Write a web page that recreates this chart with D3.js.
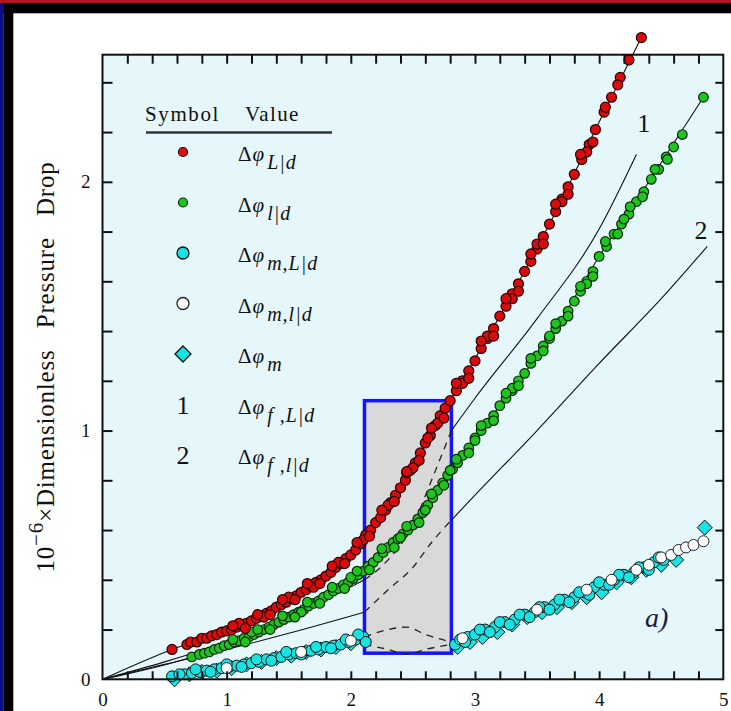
<!DOCTYPE html>
<html><head><meta charset="utf-8">
<script src="https://cdn.jsdelivr.net/npm/d3@7"></script>
<style>body{margin:0;background:#fff} svg{display:block}</style>
</head><body><svg id="c" width="731" height="711"></svg>
<script>
// ---------- data ----------
const xTicks = [0, 1, 2, 3, 4, 5];
const yTicks = [0, 1, 2];
const redPts = [[0.56,0.12],[0.68,0.14],[0.71,0.15],[0.76,0.15],[0.8,0.165],[0.84,0.165],[0.88,0.175],[0.92,0.18],[0.96,0.19],[1.0,0.195],[1.04,0.2],[1.08,0.21],[1.12,0.215],[1.16,0.225],[1.2,0.235],[1.24,0.245],[1.28,0.255],[1.32,0.265],[1.36,0.275],[1.4,0.29],[1.44,0.3],[1.48,0.31],[1.52,0.325],[1.56,0.335],[1.6,0.35],[1.64,0.36],[1.68,0.375],[1.72,0.39],[1.76,0.4],[1.8,0.415],[1.84,0.43],[1.88,0.45],[1.92,0.465],[1.96,0.485],[2.0,0.5],[2.04,0.52],[2.08,0.545],[2.12,0.58],[2.16,0.6],[2.2,0.63],[2.24,0.65],[2.28,0.68],[2.32,0.71],[2.36,0.74],[2.4,0.77],[2.44,0.8],[2.48,0.84],[2.52,0.87],[2.56,0.91],[2.6,0.95],[2.64,0.98],[2.68,1.02],[2.72,1.06],[2.76,1.09],[2.8,1.12],[2.85,1.16],[2.9,1.2],[2.95,1.24],[3.0,1.28],[3.05,1.33],[3.1,1.37],[3.15,1.41],[3.2,1.46],[3.25,1.5],[3.3,1.55],[3.35,1.59],[3.4,1.64],[3.45,1.68],[3.5,1.73],[3.55,1.78],[3.6,1.83],[3.65,1.88],[3.7,1.93],[3.75,1.98],[3.8,2.03],[3.86,2.09],[3.92,2.15],[3.97,2.21],[4.04,2.28],[4.1,2.34],[4.17,2.42],[4.24,2.49],[4.34,2.58]];
const redExtra = [[1.1,0.225],[1.3,0.25],[1.5,0.33],[1.7,0.37],[1.9,0.47],[2.1,0.56],[2.3,0.7],[2.45,0.83],[2.5,0.85],[2.62,0.97],[2.7,1.03],[2.9,1.19],[3.1,1.38],[3.3,1.53],[3.5,1.75],[3.7,1.92],[3.9,2.12],
  [1.05,0.215],[1.15,0.205],[1.25,0.26],[1.35,0.26],[1.45,0.32],[1.55,0.32],[1.65,0.385],[1.75,0.385],[1.85,0.455],[1.95,0.465],[2.05,0.55],[2.15,0.575],[2.25,0.68],[2.35,0.715],[2.45,0.835],[2.55,0.88],[2.65,1.01],[2.75,1.05],[2.85,1.19],[2.95,1.21],[3.05,1.36],[3.15,1.38],[3.25,1.53],[3.35,1.56],[3.45,1.71],[3.55,1.75],[3.65,1.91],[3.75,1.95],[3.85,2.11],[3.95,2.16],[4.05,2.3],[4.15,2.39]];
const greenPts = [[0.72,0.09],[0.78,0.1],[0.82,0.105],[0.86,0.11],[0.9,0.12],[0.94,0.125],[0.98,0.135],[1.02,0.14],[1.06,0.15],[1.1,0.155],[1.14,0.165],[1.18,0.17],[1.22,0.18],[1.26,0.19],[1.3,0.2],[1.34,0.21],[1.38,0.22],[1.42,0.23],[1.46,0.24],[1.5,0.25],[1.54,0.26],[1.58,0.27],[1.62,0.28],[1.66,0.295],[1.7,0.305],[1.74,0.315],[1.78,0.33],[1.82,0.34],[1.86,0.355],[1.9,0.365],[1.94,0.38],[1.98,0.39],[2.02,0.405],[2.06,0.42],[2.1,0.435],[2.14,0.455],[2.18,0.47],[2.22,0.49],[2.26,0.51],[2.3,0.53],[2.34,0.55],[2.38,0.565],[2.42,0.585],[2.46,0.6],[2.5,0.62],[2.54,0.645],[2.58,0.67],[2.62,0.7],[2.66,0.73],[2.7,0.76],[2.74,0.79],[2.78,0.82],[2.82,0.845],[2.86,0.87],[2.9,0.9],[2.95,0.93],[3.0,0.97],[3.05,1.0],[3.1,1.03],[3.15,1.06],[3.2,1.1],[3.25,1.13],[3.3,1.16],[3.35,1.2],[3.4,1.23],[3.45,1.27],[3.5,1.3],[3.55,1.34],[3.6,1.37],[3.65,1.41],[3.7,1.44],[3.75,1.48],[3.8,1.52],[3.85,1.56],[3.9,1.6],[3.95,1.64],[4.0,1.7],[4.06,1.74],[4.12,1.79],[4.18,1.83],[4.24,1.87],[4.3,1.92],[4.36,1.96],[4.42,2.01],[4.48,2.05],[4.54,2.1],[4.6,2.14],[4.67,2.19],[4.84,2.34]];
const greenExtra = [[1.2,0.19],[1.6,0.27],[2.0,0.41],[2.4,0.57],[2.6,0.68],[2.8,0.84],[3.0,0.96],[3.3,1.17],[3.6,1.38],[3.9,1.59],[4.2,1.85],
  [1.05,0.16],[1.15,0.15],[1.25,0.2],[1.35,0.2],[1.45,0.255],[1.55,0.25],[1.65,0.31],[1.75,0.305],[1.85,0.37],[1.95,0.365],[2.05,0.435],[2.15,0.44],[2.25,0.525],[2.35,0.53],[2.45,0.615],[2.55,0.63],[2.65,0.745],[2.75,0.78],[2.85,0.885],[2.95,0.91],[3.05,1.02],[3.15,1.04],[3.25,1.15],[3.35,1.18],[3.45,1.29],[3.55,1.32],[3.65,1.43],[3.75,1.46],[3.85,1.58],[3.95,1.62],[4.05,1.76],[4.15,1.79],[4.25,1.9],[4.35,1.94],[4.45,2.05],[4.55,2.09]];
const mLdPts = [[0.56,0.012],[0.66,0.02],[0.72,0.025],[0.78,0.03],[0.84,0.035],[0.9,0.04],[0.96,0.045],[1.02,0.05],[1.08,0.055],[1.14,0.06],[1.2,0.065],[1.26,0.07],[1.32,0.08],[1.38,0.085],[1.44,0.09],[1.5,0.1],[1.56,0.105],[1.62,0.11],[1.68,0.115],[1.74,0.12],[1.8,0.13],[1.86,0.135],[1.92,0.14],[1.98,0.15],[2.04,0.16],[2.1,0.17],[2.12,0.15],[2.84,0.14],[2.88,0.16],[2.94,0.17],[3.0,0.18],[3.08,0.2],[3.16,0.21],[3.24,0.23],[3.32,0.24],[3.4,0.26],[3.48,0.27],[3.56,0.29],[3.64,0.3],[3.72,0.32],[3.8,0.33],[3.88,0.35],[3.96,0.37],[4.04,0.38],[4.12,0.4],[4.2,0.42],[4.28,0.43],[4.36,0.45],[4.44,0.47],[4.52,0.48]];
const mLdExtra = [[0.62,0.02],[0.75,0.04],[0.87,0.03],[1.0,0.06],[1.12,0.05],[1.24,0.08],[1.36,0.075],[1.48,0.11],[1.6,0.1],[1.72,0.13],[1.84,0.125],[1.96,0.16],[2.06,0.18],[2.92,0.15],[3.04,0.2],[3.12,0.19],[3.2,0.23],[3.28,0.22],[3.36,0.26],[3.44,0.25],[3.52,0.29],[3.6,0.28],[3.68,0.32],[3.76,0.31],[3.84,0.35],[3.92,0.34],[4.0,0.39],[4.08,0.38],[4.16,0.42],[4.24,0.41],[4.32,0.45],[4.4,0.44],[4.48,0.49]];
const mldPts = [[1.0,0.045],[1.6,0.11],[2.0,0.155],[2.9,0.165],[3.5,0.28],[3.9,0.36],[4.1,0.4],[4.3,0.44],[4.4,0.46],[4.5,0.49],[4.58,0.5],[4.64,0.52],[4.7,0.53],[4.76,0.54],[4.84,0.555]];
const mPts = [[0.58,0.0],[0.7,0.02],[0.8,0.03],[0.92,0.035],[1.04,0.045],[1.16,0.06],[1.28,0.07],[1.4,0.085],[1.52,0.095],[1.64,0.11],[1.76,0.12],[1.88,0.13],[2.0,0.145],[2.1,0.16],[2.86,0.13],[2.96,0.15],[3.06,0.17],[3.18,0.19],[3.3,0.22],[3.42,0.25],[3.54,0.27],[3.66,0.29],[3.78,0.31],[3.9,0.33],[4.02,0.35],[4.14,0.39],[4.26,0.41],[4.38,0.44],[4.5,0.46],[4.62,0.48],[4.85,0.61]];
const redFit = [[0,0],[0.56,0.12],[1.0,0.195],[1.5,0.32],[2.0,0.5],[2.4,0.77],[2.8,1.12],[3.2,1.46],[3.6,1.83],[4.0,2.24],[4.34,2.58]];
const greenFit = [[0,0],[0.72,0.09],[1.2,0.18],[1.6,0.275],[2.0,0.4],[2.4,0.575],[2.8,0.83],[3.2,1.1],[3.6,1.37],[4.0,1.7],[4.4,2.0],[4.84,2.34]];
const curve1Solid = [[[0,0],[0.5,0.07],[1.0,0.15],[1.5,0.25],[2.11,0.40]],[[2.81,1.0],[3.0,1.13],[3.5,1.45],[4.0,1.81],[4.3,2.11]]];
const curve1Dash = [[2.11,0.40],[2.3,0.48],[2.5,0.62],[2.65,0.8],[2.81,1.0]];
const curve2Solid = [[[0,0],[0.5,0.06],[1.0,0.12],[1.5,0.185],[2.11,0.27]],[[2.81,0.64],[3.0,0.74],[3.5,1.0],[4.0,1.27],[4.5,1.53],[4.87,1.74]]];
const curve2Dash = [[2.11,0.27],[2.3,0.36],[2.5,0.45],[2.65,0.55],[2.81,0.64]];
const mDashUpper = [[2.11,0.17],[2.3,0.2],[2.45,0.21],[2.6,0.18],[2.81,0.15]];
const mDashLower = [[2.11,0.14],[2.3,0.12],[2.45,0.1],[2.6,0.12],[2.81,0.14]];
const boxX = [2.11, 2.81];
const boxY = [0.105, 1.12];
const legendSubs = ["L|d", "l|d", "m,L|d", "m,l|d", "m", "f ,L|d", "f ,l|d"];
const legendSyms = ["red", "green", "cyan", "open", "diamond", "1", "2"];
const curveLabels = [{t:"1", x:4.36, y:2.2}, {t:"2", x:4.82, y:1.77}];

// ---------- drawing ----------
const svg = d3.select("#c");
const W = 731, H = 711;
const x = d3.scaleLinear().domain([0, 5]).range([102.5, 723.3]);
const y = d3.scaleLinear().domain([0, 2.511]).range([679.3, 54.7]);
const serif = "'Liberation Serif','Times New Roman',serif";

svg.append("rect").attr("width", W).attr("height", H).attr("fill", "#fff");
svg.append("rect").attr("x", 0).attr("y", 0).attr("width", W).attr("height", 3).attr("fill", "#b3181d");
svg.append("rect").attr("x", 0).attr("y", 3).attr("width", 3.3).attr("height", H).attr("fill", "#0d0d8c");
svg.append("rect").attr("x", 3.3).attr("y", 3).attr("width", W).attr("height", 10.3).attr("fill", "#000");
svg.append("rect").attr("x", 3.3).attr("y", 3).attr("width", 10).attr("height", H).attr("fill", "#000");

svg.append("rect").attr("x", x(0)).attr("y", y(2.511)).attr("width", x(5) - x(0)).attr("height", y(0) - y(2.511)).attr("fill", "#e6f7fc");

svg.append("rect").attr("x", x(boxX[0])).attr("y", y(boxY[1])).attr("width", x(boxX[1]) - x(boxX[0])).attr("height", y(boxY[0]) - y(boxY[1]))
  .attr("fill", "#d9d9d9").attr("stroke", "#1414ff").attr("stroke-width", 3.5);

const line = d3.line().x(d => x(d[0])).y(d => y(d[1])).curve(d3.curveMonotoneX);
const g = svg.append("g");
curve1Solid.concat(curve2Solid).forEach(s => g.append("path").attr("d", line(s)).attr("fill", "none").attr("stroke", "#111").attr("stroke-width", 1.1));
[curve1Dash, curve2Dash, mDashUpper, mDashLower].forEach(s => g.append("path").attr("d", line(s)).attr("fill", "none").attr("stroke", "#222").attr("stroke-width", 1.3).attr("stroke-dasharray", "7,6"));
[redFit, greenFit].forEach(s => g.append("path").attr("d", line(s)).attr("fill", "none").attr("stroke", "#111").attr("stroke-width", 1.1));

const diamond = (cx, cy, r) => `M${cx},${cy - r}L${cx + r},${cy}L${cx},${cy + r}L${cx - r},${cy}Z`;
g.selectAll(".md").data(mPts).join("path").attr("d", d => diamond(x(d[0]), y(d[1]), 7.5)).attr("fill", "#17e3e3").attr("stroke", "#111").attr("stroke-width", 1);
g.selectAll(".mL").data(mLdPts.concat(mLdExtra)).join("circle").attr("cx", d => x(d[0])).attr("cy", d => y(d[1])).attr("r", 5.5).attr("fill", "#17e3e3").attr("stroke", "#111").attr("stroke-width", 1);
g.selectAll(".ml").data(mldPts).join("circle").attr("cx", d => x(d[0])).attr("cy", d => y(d[1])).attr("r", 5.5).attr("fill", "#fafafa").attr("stroke", "#222").attr("stroke-width", 1);
g.selectAll(".gr").data(greenPts.concat(greenExtra)).join("circle").attr("cx", d => x(d[0])).attr("cy", d => y(d[1])).attr("r", 4.8).attr("fill", "#1fc41f").attr("stroke", "#062806").attr("stroke-width", 1.2);
g.selectAll(".rd").data(redPts.concat(redExtra)).join("circle").attr("cx", d => x(d[0])).attr("cy", d => y(d[1])).attr("r", 5).attr("fill", "#d80c0c").attr("stroke", "#2a0000").attr("stroke-width", 1.2);

svg.append("rect").attr("x", x(0)).attr("y", y(2.511)).attr("width", x(5) - x(0)).attr("height", y(0) - y(2.511)).attr("fill", "none").attr("stroke", "#111").attr("stroke-width", 2);

const minorX = d3.range(0.2, 5, 0.2);
const minorY = d3.range(0.2, 2.5, 0.2);
const axB = svg.append("g").attr("transform", `translate(0,${y(0)})`).call(d3.axisBottom(x).tickValues(minorX).tickSize(-8).tickFormat(""));
const axT = svg.append("g").attr("transform", `translate(0,${y(2.511)})`).call(d3.axisTop(x).tickValues(minorX).tickSize(-9).tickFormat(""));
const axL = svg.append("g").attr("transform", `translate(${x(0)},0)`).call(d3.axisLeft(y).tickValues(minorY).tickSize(-10).tickFormat(""));
const axR = svg.append("g").attr("transform", `translate(${x(5)},0)`).call(d3.axisRight(y).tickValues(minorY).tickSize(-8).tickFormat(""));
[axB, axT, axL, axR].forEach(a => { a.select(".domain").remove(); a.selectAll("line").attr("stroke", "#111").attr("stroke-width", 2); });
const labB = svg.append("g").attr("transform", `translate(0,${y(0)})`).call(d3.axisBottom(x).tickValues(xTicks).tickSize(0).tickPadding(13).tickFormat(d3.format("d")));
const labL = svg.append("g").attr("transform", `translate(${x(0)},0)`).call(d3.axisLeft(y).tickValues(yTicks).tickSize(0).tickPadding(12).tickFormat(d3.format("d")));
[labB, labL].forEach(a => { a.select(".domain").remove(); a.selectAll("text").attr("font-family", serif).attr("font-size", 19).attr("fill", "#111"); });

const yt = svg.append("text").attr("transform", `translate(54,${(y(0) + y(2.511)) / 2}) rotate(-90)`).attr("text-anchor", "middle")
  .attr("font-family", serif).attr("font-size", 25).attr("letter-spacing", 0.8).attr("fill", "#111");
yt.append("tspan").text("10");
yt.append("tspan").attr("dy", -11).attr("font-size", 21).text("\u22126");
yt.append("tspan").attr("dy", 11).text("\u00d7Dimensionless\u00a0\u00a0\u00a0Pressure\u00a0\u00a0\u00a0Drop");

const lg = svg.append("g").attr("font-family", serif).attr("fill", "#111");
lg.append("text").attr("x", 145).attr("y", 121).attr("font-size", 21).attr("letter-spacing", 1.6).text("Symbol");
lg.append("text").attr("x", 245).attr("y", 121).attr("font-size", 21).attr("letter-spacing", 1.4).text("Value");
lg.append("line").attr("x1", 146).attr("x2", 332).attr("y1", 132.5).attr("y2", 132.5).attr("stroke", "#333").attr("stroke-width", 2.5);
const rowY = d3.range(legendSubs.length).map(i => 152 + i * 50.5);
legendSyms.forEach((s, i) => {
  const cy = rowY[i], cx = 183;
  if (s === "red") lg.append("circle").attr("cx", cx).attr("cy", cy).attr("r", 4.5).attr("fill", "#e01010").attr("stroke", "#2a0000").attr("stroke-width", 1.2);
  else if (s === "green") lg.append("circle").attr("cx", cx).attr("cy", cy).attr("r", 4.5).attr("fill", "#1fc41f").attr("stroke", "#062806").attr("stroke-width", 1.2);
  else if (s === "cyan") lg.append("circle").attr("cx", cx).attr("cy", cy).attr("r", 6).attr("fill", "#17e3e3").attr("stroke", "#111").attr("stroke-width", 1.3);
  else if (s === "open") lg.append("circle").attr("cx", cx).attr("cy", cy).attr("r", 6).attr("fill", "#fafafa").attr("stroke", "#222").attr("stroke-width", 1.3);
  else if (s === "diamond") lg.append("path").attr("d", diamond(cx, cy, 8)).attr("fill", "#17e3e3").attr("stroke", "#111").attr("stroke-width", 1.3);
  else lg.append("text").attr("x", cx).attr("y", cy + 9).attr("text-anchor", "middle").attr("font-size", 26).text(s);
  const t = lg.append("text").attr("x", 238).attr("y", cy + 9).attr("font-size", 21).attr("letter-spacing", 1);
  t.append("tspan").text("\u0394");
  t.append("tspan").attr("font-style", "italic").text("\u03c6");
  t.append("tspan").attr("dy", 8).attr("dx", 2).attr("font-style", "italic").attr("font-size", 20).text(legendSubs[i]);
});

curveLabels.forEach(c => svg.append("text").attr("x", x(c.x)).attr("y", y(c.y)).attr("text-anchor", "middle").attr("font-family", serif).attr("font-size", 26).attr("fill", "#111").text(c.t));
svg.append("text").attr("x", x(4.37)).attr("y", y(0.21)).attr("font-family", serif).attr("font-style", "italic").attr("font-size", 28).attr("fill", "#1a1a48").text("a)");
</script></body></html>
